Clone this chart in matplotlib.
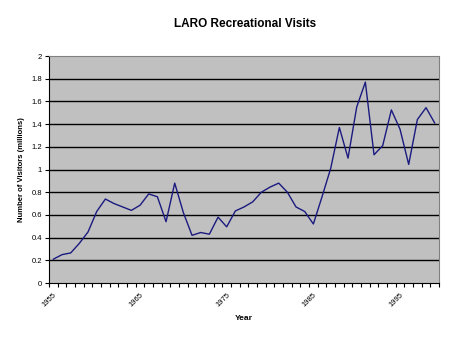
import matplotlib.pyplot as plt
import numpy as np

years = np.arange(1955, 2000)
visits = [0.21, 0.25, 0.265, 0.35, 0.45, 0.63, 0.74, 0.70, 0.67, 0.64,
          0.685, 0.785, 0.76, 0.54, 0.88, 0.62, 0.42, 0.445, 0.43, 0.58,
          0.495, 0.635, 0.67, 0.715, 0.80, 0.845, 0.88, 0.80, 0.67, 0.63,
          0.52, 0.76, 1.01, 1.37, 1.10, 1.55, 1.77, 1.13, 1.21, 1.525,
          1.355, 1.045, 1.44, 1.545, 1.41]
year_labels = [1955, 1965, 1975, 1985, 1995]
y_ticks = [0, 0.2, 0.4, 0.6, 0.8, 1, 1.2, 1.4, 1.6, 1.8, 2]

plt.rcParams['font.family'] = ['Liberation Sans', 'DejaVu Sans']

fig = plt.figure(figsize=(4.5, 3.42), dpi=100)
ax = fig.add_axes([0.109, 0.1725, 0.8666, 0.6637])
ax.set_facecolor('#c0c0c0')

for v in y_ticks[1:-1]:
    ax.axhline(v, color='black', linewidth=1, zorder=1)

ax.plot(years, visits, color='#1a1a80', linewidth=1, zorder=2)

ax.set_xlim(1954.5, 1999.5)
ax.set_ylim(0, 2)
ax.set_yticks(y_ticks)
ax.set_yticklabels(['0', '0.2', '0.4', '0.6', '0.8', '1', '1.2', '1.4', '1.6', '1.8', '2'])
ax.set_xticks(year_labels)
ax.set_xticklabels([str(y) for y in year_labels], rotation=45, ha='right', va='top',
                   rotation_mode='anchor')
ax.set_xticks(np.arange(1954.5, 2000, 1), minor=True)
ax.tick_params(axis='x', which='major', length=0, labelsize=5.5, pad=6)
ax.tick_params(axis='x', which='minor', length=3, width=0.8, direction='out')
ax.tick_params(axis='y', length=3, width=0.8, direction='out', labelsize=5.5, pad=2)

for side in ['top', 'right']:
    ax.spines[side].set_color('#808080')
    ax.spines[side].set_linewidth(0.8)
for side in ['left', 'bottom']:
    ax.spines[side].set_color('black')
    ax.spines[side].set_linewidth(0.8)

ax.set_ylabel('Number of Visitors (millions)', fontsize=5.5, fontweight='bold', labelpad=5)
ax.set_xlabel('Year', fontsize=6, fontweight='bold', labelpad=5)
fig.text(0.545, 0.93, 'LARO Recreational Visits', ha='center', va='center',
         fontsize=8.5, fontweight='bold')

fig.savefig('out.png', dpi=100)
